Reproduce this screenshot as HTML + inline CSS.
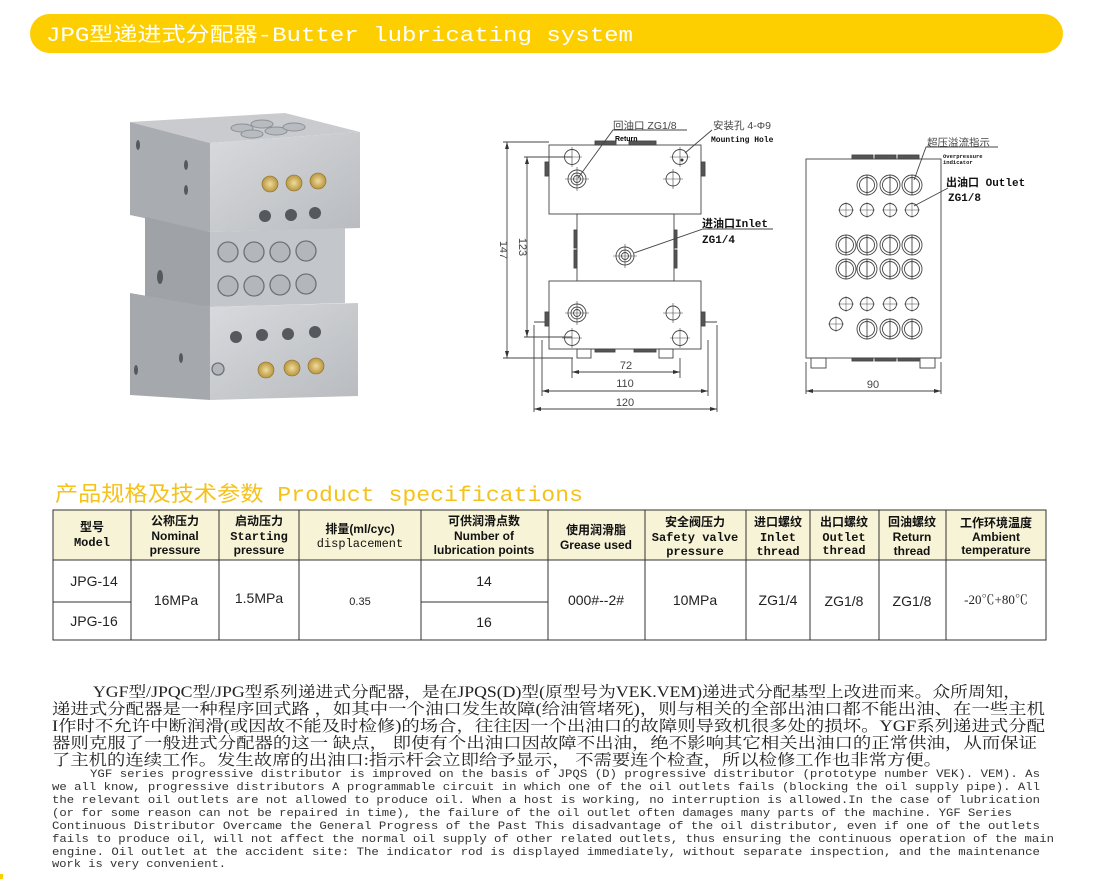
<!DOCTYPE html>
<html><head><meta charset="utf-8"><style>
html,body{margin:0;padding:0;background:#fff;width:1093px;height:879px;overflow:hidden}
svg{display:block}
.m{font-family:"Liberation Mono","Noto Sans CJK SC",monospace}
.s{font-family:"Liberation Sans","Noto Sans CJK SC",sans-serif}
.sr{font-family:"Liberation Serif","Noto Serif CJK SC",serif}
</style></head><body>
<svg width="1093" height="879" viewBox="0 0 1093 879" xmlns="http://www.w3.org/2000/svg">
<defs>
<linearGradient id="gt" x1="0" y1="0" x2="1" y2="0"><stop offset="0" stop-color="#b9bcc1"/><stop offset="1" stop-color="#d9dbde"/></linearGradient>
<linearGradient id="gf" x1="0" y1="0" x2="1" y2="1"><stop offset="0" stop-color="#d8dadd"/><stop offset="1" stop-color="#b8bbbf"/></linearGradient>
<radialGradient id="br"><stop offset="0" stop-color="#f0dc9c"/><stop offset="1" stop-color="#b8963e"/></radialGradient>
</defs>
<!-- banner -->
<rect x="30" y="14" width="1033" height="39" rx="19.5" fill="#fdcf00"/>
<text x="46" y="41" class="m" font-size="20" fill="#fff" textLength="587" lengthAdjust="spacingAndGlyphs">JPG型递进式分配器-Butter lubricating system</text>

<!-- photo -->
<g>
<polygon points="130,122 285,113 360,132 210,143" fill="#c9cbce"/>
<polygon points="130,122 210,143 210,232 130,215" fill="#a9acb1"/>
<polygon points="210,143 360,132 360,228 210,232" fill="url(#gf)"/>
<polygon points="145,217 210,232 210,307 145,298" fill="#9fa3a8"/>
<polygon points="210,232 345,228 345,303 210,307" fill="#c3c6ca"/>
<polygon points="130,293 210,307 210,400 130,395" fill="#a5a9ae"/>
<polygon points="210,307 358,303 358,396 210,400" fill="url(#gf)"/>
<g fill="#b8bbbf" stroke="#8d9196"><ellipse cx="242" cy="128" rx="11" ry="4"/><ellipse cx="262" cy="124" rx="11" ry="4"/><ellipse cx="276" cy="131" rx="11" ry="4"/><ellipse cx="252" cy="134" rx="11" ry="4"/><ellipse cx="294" cy="127" rx="11" ry="4"/></g>
<g fill="url(#br)" stroke="#8a6a2a" stroke-width="0.6"><circle cx="270" cy="184" r="8"/><circle cx="294" cy="183" r="8"/><circle cx="318" cy="181" r="8"/><circle cx="266" cy="370" r="8"/><circle cx="292" cy="368" r="8"/><circle cx="316" cy="366" r="8"/></g>
<g fill="#55585c"><circle cx="265" cy="216" r="6"/><circle cx="291" cy="215" r="6"/><circle cx="315" cy="213" r="6"/><circle cx="236" cy="337" r="6"/><circle cx="262" cy="335" r="6"/><circle cx="288" cy="334" r="6"/><circle cx="315" cy="332" r="6"/><ellipse cx="138" cy="145" rx="2" ry="5"/><ellipse cx="186" cy="165" rx="2" ry="5"/><ellipse cx="186" cy="190" rx="2" ry="5"/><ellipse cx="160" cy="277" rx="3" ry="7"/><ellipse cx="136" cy="370" rx="2" ry="5"/><ellipse cx="181" cy="358" rx="2" ry="5"/></g>
<g fill="#b3b6ba" stroke="#6d7176" stroke-width="1.3"><circle cx="228" cy="252" r="10"/><circle cx="254" cy="252" r="10"/><circle cx="280" cy="252" r="10"/><circle cx="306" cy="251" r="10"/><circle cx="228" cy="286" r="10"/><circle cx="254" cy="286" r="10"/><circle cx="280" cy="285" r="10"/><circle cx="306" cy="284" r="10"/><circle cx="218" cy="369" r="6"/></g>
</g>

<!-- left drawing -->
<g fill="none" stroke="#444" stroke-width="0.9">
<rect x="549" y="145" width="152" height="69" fill="#fff"/>
<rect x="577" y="214" width="97" height="67" fill="#fff"/>
<rect x="549" y="281" width="152" height="68" fill="#fff"/>
<rect x="595" y="141" width="21" height="4" fill="#555"/><rect x="629" y="141" width="27" height="4" fill="#555"/>
<rect x="595" y="349" width="20" height="3" fill="#555"/><rect x="634" y="349" width="22" height="3" fill="#555"/>
<rect x="577" y="349" width="14" height="9"/><rect x="659" y="349" width="14" height="9"/>
<rect x="545" y="162" width="4" height="14" fill="#555"/><rect x="701" y="162" width="4" height="14" fill="#555"/>
<rect x="574" y="230" width="3" height="18" fill="#555"/><rect x="674" y="230" width="3" height="18" fill="#555"/>
<rect x="574" y="250" width="3" height="18" fill="#555"/><rect x="674" y="250" width="3" height="18" fill="#555"/>
<rect x="545" y="312" width="4" height="14" fill="#555"/><rect x="701" y="312" width="4" height="14" fill="#555"/>
<path d="M534 322h11M705 322h12"/>
<circle cx="572" cy="157" r="7.5"/><circle cx="680" cy="157" r="7.5"/>
<circle cx="577" cy="179" r="9"/><circle cx="577" cy="179" r="6"/><circle cx="577" cy="179" r="3.5"/>
<circle cx="673" cy="179" r="7"/>
<circle cx="625" cy="256" r="9"/><circle cx="625" cy="256" r="6"/><circle cx="625" cy="256" r="3.5"/>
<circle cx="577" cy="313" r="9"/><circle cx="577" cy="313" r="6"/><circle cx="577" cy="313" r="3.5"/>
<circle cx="673" cy="313" r="7"/><circle cx="572" cy="338" r="7.5"/><circle cx="680" cy="338" r="7.5"/>
<g stroke-width="0.6"><path d="M562 157h20M572 147v20M670 157h20M680 147v20M565 179h24M577 167v24M663 179h20M673 169v20M613 256h24M625 244v24M565 313h24M577 301v24M663 313h20M673 303v20M562 338h20M572 328v20M670 338h20M680 328v20"/></g>
<path d="M503 142h46M503 358h70M507 142v216M524 157h48M524 337h48M527 157v180"/>
<path d="M572 358v20M680 358v20M572 372h108M542 340v56M708 340v56M542 391h166M534 325v87M717 325v87M534 409h183"/>
<path d="M578 178L613 130h74M685 153L712 130M634 253L703 229h70"/>
</g>
<g fill="#333"><path d="M507 142l-2 7h4zM507 358l-2-7h4zM527 157l-2 7h4zM527 337l-2-7h4zM572 372l7-2v4zM680 372l-7-2v4zM542 391l7-2v4zM708 391l-7-2v4zM534 409l7-2v4zM717 409l-7-2v4z"/><circle cx="682" cy="160" r="1.5"/></g>
<g class="s" fill="#444" font-size="11">
<text x="500" y="250" transform="rotate(90 500 250)" text-anchor="middle">147</text>
<text x="519" y="247" transform="rotate(90 519 247)" text-anchor="middle">123</text>
<text x="626" y="369" text-anchor="middle">72</text>
<text x="625" y="387" text-anchor="middle">110</text>
<text x="625" y="406" text-anchor="middle">120</text>
<text x="613" y="129" font-size="10.5">回油口 ZG1/8</text>
<text x="713" y="129" font-size="10.5">安装孔 4-Φ9</text>
<text x="615" y="141" font-size="7" font-weight="bold" fill="#000">Return</text>
</g>
<g class="m" fill="#111" font-weight="bold">
<text x="711" y="142" font-size="8">Mounting Hole</text>
<text x="702" y="227" font-size="11">进油口Inlet</text>
<text x="702" y="243" font-size="11">ZG1/4</text>
</g>

<!-- right drawing -->
<g fill="none" stroke="#444" stroke-width="0.9">
<rect x="806" y="159" width="135" height="199" fill="#fff"/>
<rect x="852" y="155" width="21" height="4" fill="#555"/><rect x="875" y="155" width="21" height="4" fill="#555"/><rect x="898" y="155" width="21" height="4" fill="#555"/>
<rect x="852" y="358" width="21" height="3" fill="#555"/><rect x="875" y="358" width="21" height="3" fill="#555"/><rect x="898" y="358" width="21" height="3" fill="#555"/>
<rect x="811" y="358" width="15" height="10"/><rect x="920" y="358" width="15" height="10"/>
<path d="M806 362v32M941 362v32M806 391h135"/>
<g id="bc"><circle cx="867" cy="185" r="10"/><circle cx="867" cy="185" r="7.5"/><path d="M867 175v20"/></g>
<use href="#bc" x="23"/><use href="#bc" x="45"/>
<use href="#bc" x="-21" y="60"/><use href="#bc" y="60"/><use href="#bc" x="23" y="60"/><use href="#bc" x="45" y="60"/>
<use href="#bc" x="-21" y="84"/><use href="#bc" y="84"/><use href="#bc" x="23" y="84"/><use href="#bc" x="45" y="84"/>
<use href="#bc" y="144"/><use href="#bc" x="23" y="144"/><use href="#bc" x="45" y="144"/>
<g id="sc"><circle cx="846" cy="210" r="6.5"/><path d="M838 210h16M846 202v16" stroke-width="0.5"/></g>
<use href="#sc" x="21"/><use href="#sc" x="44"/><use href="#sc" x="66"/>
<use href="#sc" y="94"/><use href="#sc" x="21" y="94"/><use href="#sc" x="44" y="94"/><use href="#sc" x="66" y="94"/>
<use href="#sc" x="-10" y="114"/>
<path d="M914 180L926 147h72M914 206L948 188"/>
</g>
<g fill="#333"><path d="M806 391l7-2v4zM941 391l-7-2v4z"/></g>
<g class="s" fill="#444"><text x="873" y="388" text-anchor="middle" font-size="11">90</text><text x="927" y="146" font-size="10.5">超压溢流指示</text></g>
<g class="m" fill="#111" font-weight="bold">
<text x="943" y="158" font-size="5.5">Overpressure</text><text x="943" y="164" font-size="5.5">indicator</text>
<text x="946" y="186" font-size="11">出油口 Outlet</text>
<text x="948" y="201" font-size="11">ZG1/8</text>
</g>

<!-- spec title -->
<text x="55" y="501" class="m" font-size="21" fill="#f5c21a" textLength="528" lengthAdjust="spacingAndGlyphs">产品规格及技术参数 Product specifications</text>

<!-- table -->
<rect x="53" y="510" width="993" height="50" fill="#f7f3d6"/>
<g stroke="#333" stroke-width="1" fill="none">
<rect x="53" y="510" width="993" height="130"/>
<path d="M53 560h993M53 602h78M421 602h127"/>
<path d="M131 510v130M219 510v130M299 510v130M421 510v130M548 510v130M645 510v130M746 510v130M810 510v130M879 510v130M946 510v130"/>
</g>
<g font-size="12" fill="#111" text-anchor="middle" font-weight="bold">
<text class="s" x="92" y="531">型号</text><text class="m" x="92" y="546">Model</text>
<text class="s" x="175" y="525">公称压力</text><text class="s" x="175" y="540">Nominal</text><text class="s" x="175" y="554">pressure</text>
<text class="s" x="259" y="525">启动压力</text><text class="m" x="259" y="540">Starting</text><text class="s" x="259" y="554">pressure</text>
<text class="s" x="360" y="533">排量(ml/cyc)</text><text class="m" x="360" y="547" font-weight="normal">displacement</text>
<text class="s" x="484" y="525">可供润滑点数</text><text class="s" x="484" y="540">Number of</text><text class="s" x="484" y="554">lubrication points</text>
<text class="s" x="596" y="534">使用润滑脂</text><text class="s" x="596" y="549">Grease used</text>
<text class="s" x="695" y="526">安全阀压力</text><text class="m" x="695" y="541">Safety valve</text><text class="m" x="695" y="555">pressure</text>
<text class="s" x="778" y="526">进口螺纹</text><text class="m" x="778" y="541">Inlet</text><text class="m" x="778" y="555">thread</text>
<text class="s" x="844" y="526">出口螺纹</text><text class="m" x="844" y="541">Outlet</text><text class="m" x="844" y="554">thread</text>
<text class="s" x="912" y="526">回油螺纹</text><text class="s" x="912" y="541">Return</text><text class="s" x="912" y="555">thread</text>
<text class="s" x="996" y="527">工作环境温度</text><text class="s" x="996" y="541">Ambient</text><text class="s" x="996" y="554">temperature</text>
</g>
<g class="s" font-size="14" fill="#222" text-anchor="middle">
<text x="94" y="586">JPG-14</text><text x="94" y="626">JPG-16</text>
<text x="176" y="605">16MPa</text><text x="259" y="603">1.5MPa</text>
<text x="360" y="605" font-size="11">0.35</text>
<text x="484" y="586">14</text><text x="484" y="627">16</text>
<text x="596" y="605">000#--2#</text><text x="695" y="605">10MPa</text>
<text x="778" y="605">ZG1/4</text><text x="844" y="606">ZG1/8</text><text x="912" y="606">ZG1/8</text>
<text x="996" y="604" class="sr" font-size="13">-20℃+80℃</text>
</g>

<!-- paragraph -->
<g class="sr" fill="#222" font-size="15.5">
<text x="93" y="697" textLength="928" lengthAdjust="spacingAndGlyphs">YGF型/JPQC型/JPG型系列递进式分配器，是在JPQS(D)型(原型号为VEK.VEM)递进式分配基型上改进而来。众所周知，</text>
<text x="52" y="714" textLength="993" lengthAdjust="spacingAndGlyphs">递进式分配器是一种程序回式路 ，如其中一个油口发生故障(给油管堵死)，则与相关的全部出油口都不能出油、在一些主机</text>
<text x="52" y="731" textLength="993" lengthAdjust="spacingAndGlyphs">I作时不允许中断润滑(或因故不能及时检修)的场合，往往因一个出油口的故障则导致机很多处的损坏。YGF系列递进式分配</text>
<text x="52" y="748" textLength="985" lengthAdjust="spacingAndGlyphs">器则克服了一般进式分配器的这一 缺点， 即使有个出油口因故障不出油，绝不影响其它相关出油口的正常供油，从而保证</text>
<text x="52" y="765" textLength="890" lengthAdjust="spacingAndGlyphs">了主机的连续工作。发生故席的出油口:指示杆会立即给予显示， 不需要连个检查，所以检修工作也非常方便。</text>
</g>
<g class="m" fill="#333" font-size="11">
<text x="90" y="777" textLength="950" lengthAdjust="spacingAndGlyphs">YGF series progressive distributor is improved on the basis of JPQS (D) progressive distributor (prototype number VEK). VEM). As</text>
<text x="52" y="790" textLength="988" lengthAdjust="spacingAndGlyphs">we all know, progressive distributors A programmable circuit in which one of the oil outlets fails (blocking the oil supply pipe). All</text>
<text x="52" y="803" textLength="988" lengthAdjust="spacingAndGlyphs">the relevant oil outlets are not allowed to produce oil. When a host is working, no interruption is allowed.In the case of lubrication</text>
<text x="52" y="816" textLength="960" lengthAdjust="spacingAndGlyphs">(or for some reason can not be repaired in time), the failure of the oil outlet often damages many parts of the machine. YGF Series</text>
<text x="52" y="829" textLength="988" lengthAdjust="spacingAndGlyphs">Continuous Distributor Overcame the General Progress of the Past This disadvantage of the oil distributor, even if one of the outlets</text>
<text x="52" y="842" textLength="1002" lengthAdjust="spacingAndGlyphs">fails to produce oil, will not affect the normal oil supply of other related outlets, thus ensuring the continuous operation of the main</text>
<text x="52" y="855" textLength="988" lengthAdjust="spacingAndGlyphs">engine. Oil outlet at the accident site: The indicator rod is displayed immediately, without separate inspection, and the maintenance</text>
<text x="52" y="867" textLength="174" lengthAdjust="spacingAndGlyphs">work is very convenient.</text>
</g>
<rect x="0" y="874" width="3" height="5" fill="#fdcf00"/>
</svg>
</body></html>
